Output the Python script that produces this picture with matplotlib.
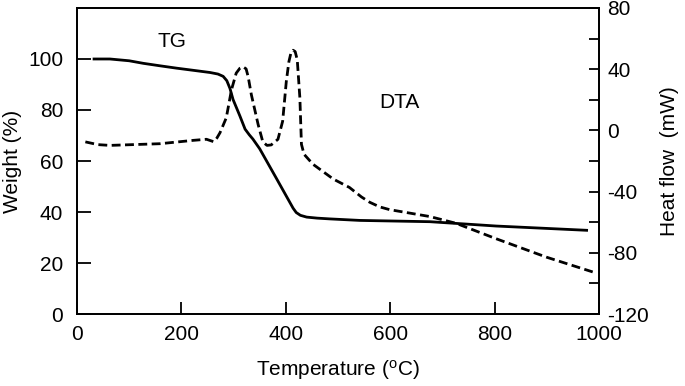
import numpy as np
import matplotlib
matplotlib.use('Agg')
import matplotlib.pyplot as plt
from matplotlib.ticker import MultipleLocator

plt.rcParams['font.family'] = ['Liberation Sans', 'DejaVu Sans']
plt.rcParams['mathtext.fontset'] = 'custom'
plt.rcParams['mathtext.rm'] = 'Liberation Sans'
plt.rcParams['axes.unicode_minus'] = False

# TG curve (weight %, left axis)
tg_temp = [30, 63, 100, 127, 160, 191, 225, 255, 270, 280, 287, 293, 299, 312,
           322, 330, 337, 350, 382, 414, 420, 428, 440, 460, 484, 542, 676,
           803, 979]
tg_weight = [100, 100, 99.3, 98.3, 97.3, 96.4, 95.5, 94.7, 94.1, 93.2, 91.5,
             88.5, 84.1, 77.7, 72.5, 70.3, 68.6, 64.8, 53.2, 41.5, 39.8, 38.7,
             38.0, 37.6, 37.3, 36.7, 36.2, 34.5, 32.8]

# DTA curve (heat flow mW, right axis)
dta_temp = [16, 40, 63, 159, 223, 248, 262, 268, 274, 286, 296, 305, 312, 318,
            324, 328, 334, 347, 356, 364, 372, 385, 394, 401, 406, 410, 414,
            418, 422, 427, 430, 435, 452, 491, 522, 545, 561, 580, 599, 676,
            726, 803, 899, 988]
dta_heat = [-7.5, -9.3, -9.8, -8.7, -6.5, -5.8, -7.4, -5.0, -1.5, 8.2, 26.6,
            37.4, 40.6, 41.6, 40.2, 35.0, 23.4, 3.9, -7.5, -9.8, -9.5, -5.8,
            6.0, 32, 45.0, 50.8, 52.4, 51.5, 46.1, 21.2, -9.1, -15.6, -22.1,
            -31.8, -37.3, -43.5, -47, -50.0, -51.8, -56.3, -60.7, -70.8, -82.8,
            -92.5]

fig = plt.figure(figsize=(6.85, 3.86), dpi=100)
ax = fig.add_axes([0.1124, 0.1865, 0.762, 0.7928])
ax2 = ax.twinx()

ax.plot(tg_temp, tg_weight, color='black', lw=2.0, solid_capstyle='butt')
ax2.plot(dta_temp, dta_heat, color='black', lw=2.0, ls=(0, (3.2, 1.6)))

ax.set_xlim(0, 1000)
ax.set_ylim(0, 120)
ax2.set_ylim(-120, 80)
ax.set_xticks(np.arange(0, 1001, 200))
ax.set_yticks(np.arange(0, 101, 20))
ax2.set_yticks(np.arange(-120, 81, 40))
ax2.yaxis.set_minor_locator(MultipleLocator(20))

fs = 15
ax.tick_params(axis='y', direction='in', length=10, width=1.3, labelsize=fs, pad=10)
ax.tick_params(axis='x', direction='in', length=9, width=1.3, labelsize=fs, pad=8)
ax2.tick_params(axis='y', which='both', direction='in', length=7, width=1.3,
                labelsize=fs, pad=6)
for a in (ax, ax2):
    for s in a.spines.values():
        s.set_linewidth(1.3)

ax.set_xlabel('Temperature ($\\mathrm{^{o}}$C)', fontsize=fs, labelpad=10)
ax.set_ylabel('Weight (%)', fontsize=fs, labelpad=4)
ax2.set_ylabel('Heat flow  (mW)', fontsize=fs, labelpad=8)

ax.text(182, 107, 'TG', fontsize=fs, ha='center', va='center')
ax.text(617, 83, 'DTA', fontsize=fs, ha='center', va='center')

fig.savefig('out.png', dpi=100)
